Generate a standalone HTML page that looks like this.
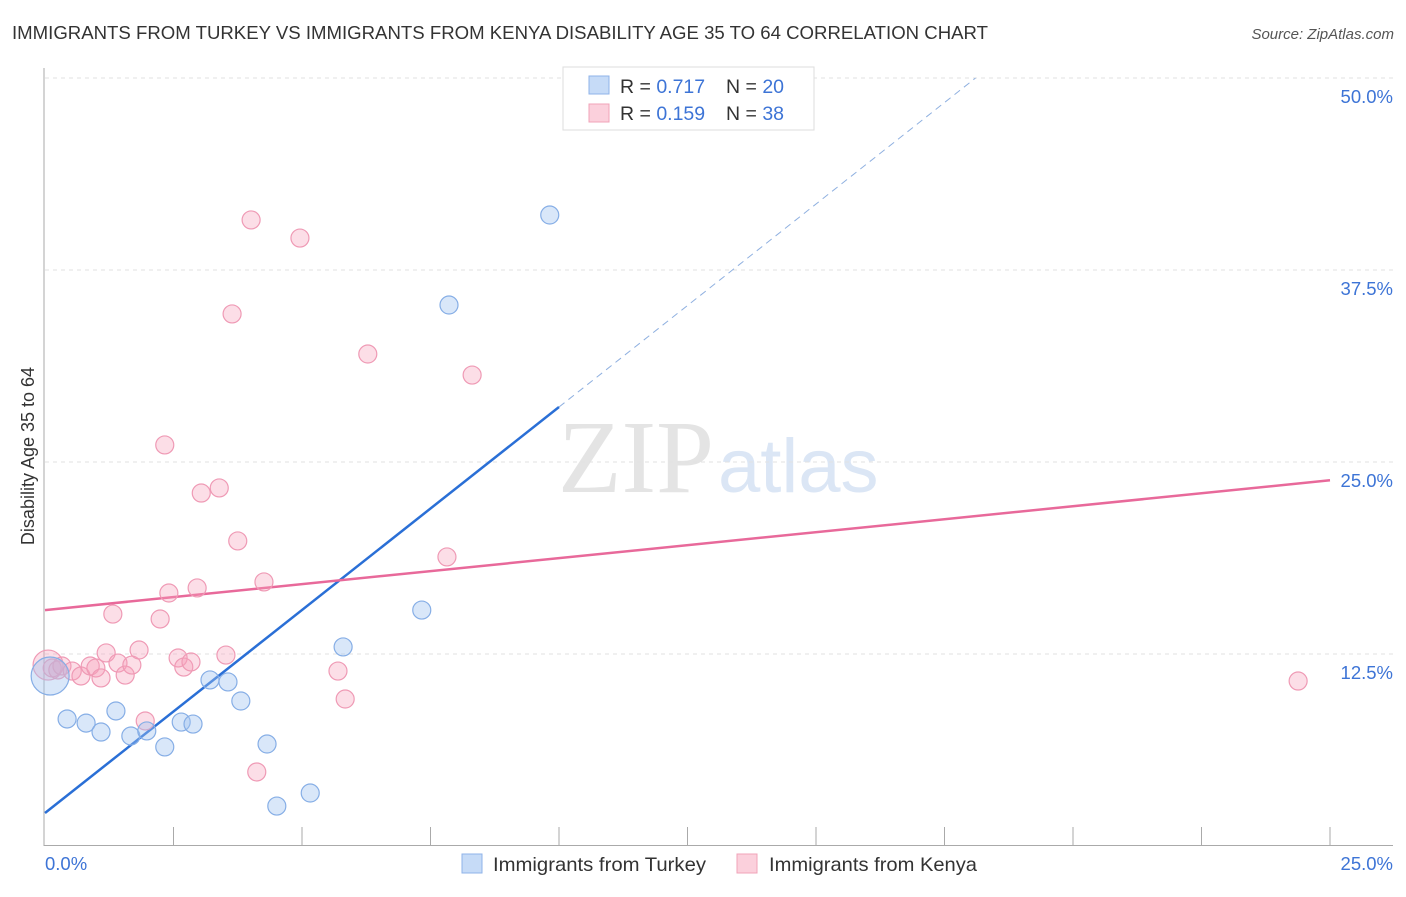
<!DOCTYPE html>
<html><head><meta charset="utf-8"><style>
body{margin:0;background:#fff;font-family:"Liberation Sans",sans-serif}
</style></head><body>
<svg width="1406" height="892" xmlns="http://www.w3.org/2000/svg" id="svg">
<text x="12" y="39" font-size="18" fill="#333" textLength="976" lengthAdjust="spacingAndGlyphs">IMMIGRANTS FROM TURKEY VS IMMIGRANTS FROM KENYA DISABILITY AGE 35 TO 64 CORRELATION CHART</text>
<text x="1394" y="39" font-size="15" fill="#555" font-style="italic" text-anchor="end">Source: ZipAtlas.com</text>
<text x="714" y="492" font-size="104" fill="#e4e4e4" text-anchor="end" font-family="Liberation Serif,serif">ZIP</text>
<text x="718" y="492" font-size="76" fill="#dbe6f5">atlas</text>
<g id="grid"></g>
<g id="axes"></g>
<g id="lines"></g>
<g id="pts"></g>
<text transform="translate(34,456) rotate(-90)" font-size="18" fill="#333" text-anchor="middle">Disability Age 35 to 64</text>
<g>
<rect x="563" y="67" width="251" height="63" fill="#fff" stroke="#ddd"/>
<rect x="589" y="76" width="20" height="18" fill="#c6dbf7" stroke="#8fb3e8"/>
<rect x="589" y="104" width="20" height="18" fill="#fbd0dc" stroke="#f0a3b8"/>
<text x="620" y="93" font-size="19.5" fill="#333">R = <tspan fill="#3d74d6">0.717</tspan></text>
<text x="726" y="93" font-size="19.5" fill="#333">N = <tspan fill="#3d74d6">20</tspan></text>
<text x="620" y="120" font-size="19.5" fill="#333">R = <tspan fill="#3d74d6">0.159</tspan></text>
<text x="726" y="120" font-size="19.5" fill="#333">N = <tspan fill="#3d74d6">38</tspan></text>
</g>
<g>
<rect x="462" y="854" width="20" height="19" fill="#c6dbf7" stroke="#8fb3e8"/>
<text x="493" y="871" font-size="19.5" fill="#333" textLength="213" lengthAdjust="spacingAndGlyphs">Immigrants from Turkey</text>
<rect x="737" y="854" width="20" height="19" fill="#fbd0dc" stroke="#f0a3b8"/>
<text x="769" y="871" font-size="19.5" fill="#333" textLength="208" lengthAdjust="spacingAndGlyphs">Immigrants from Kenya</text>
</g>
</svg>
<script>
const yTicks=[12.5,25,37.5,50];
const yTickLabels=["12.5%","25.0%","37.5%","50.0%"];
const xTickLabels=["0.0%","25.0%"];
const turkeyX=[0.1,0.43,0.8,1.09,1.38,1.67,1.98,2.33,2.65,2.88,3.21,3.56,3.81,4.32,4.51,5.16,5.80,7.33,7.86,9.82];
const turkeyY=[11.07,8.27,8.0,7.42,8.79,7.16,7.49,6.45,8.07,7.94,10.81,10.68,9.44,6.64,2.60,3.45,12.96,15.36,35.22,41.08];
const kenyaX=[0.06,0.14,0.25,0.33,0.53,0.70,0.88,0.99,1.09,1.19,1.32,1.42,1.56,1.69,1.83,1.95,2.24,2.33,2.41,2.59,2.70,2.84,2.96,3.04,3.39,3.52,3.64,3.75,4.01,4.12,4.26,4.96,5.70,5.84,6.28,7.82,8.31,24.38];
const kenyaY=[11.78,11.59,11.46,11.72,11.39,11.07,11.72,11.59,10.94,12.57,15.10,11.91,11.13,11.78,12.76,8.14,14.78,26.11,16.47,12.24,11.65,11.98,16.80,22.98,23.31,12.43,34.64,19.86,40.76,4.82,17.19,39.58,11.39,9.57,32.03,18.82,30.66,10.74];
const turkeyTrend=[2.15,2.643]; // intercept, slope
const kenyaTrend=[15.36,0.338];
const NS="http://www.w3.org/2000/svg";
const X=v=>45+v*51.4, Y=v=>846-v*15.36;
function mk(t,a,p){const e=document.createElementNS(NS,t);for(const k in a)e.setAttribute(k,a[k]);p.appendChild(e);return e;}
const g=document.getElementById('grid'),ax=document.getElementById('axes'),ln=document.getElementById('lines'),pts=document.getElementById('pts'),svg=document.getElementById('svg');
yTicks.forEach((t,i)=>{
 const l=mk('line',{x1:45,x2:1393,y1:Y(t),y2:Y(t),stroke:'#e2e2e2','stroke-dasharray':'4,4'},g);
 
 const tx=mk('text',{x:1393,y:Y(t)+25,'font-size':18.5,fill:'#3d74d6','text-anchor':'end'},svg);
 tx.textContent=yTickLabels[i];
 
});
mk('line',{x1:44,x2:44,y1:68,y2:846,stroke:'#aaa'},ax);
mk('line',{x1:44,x2:1393,y1:845.5,y2:845.5,stroke:'#aaa'},ax);
for(let i=1;i<=10;i++){const l=mk('line',{x1:X(i*2.5),x2:X(i*2.5),y1:827,y2:846,stroke:'#aaa'},ax);}
[[0,'start',45],[25,'end',1393]].forEach((d,i)=>{const t=mk('text',{x:d[2],y:870,'font-size':18.5,fill:'#3d74d6','text-anchor':d[1]},svg);t.textContent=xTickLabels[i];});
const tb=mk('line',{x1:X(0),y1:Y(turkeyTrend[0]),x2:X(10),y2:Y(turkeyTrend[0]+10*turkeyTrend[1]),stroke:'#2a6fd6','stroke-width':2.5},ln);

const xe=(50-turkeyTrend[0])/turkeyTrend[1];
const td=mk('line',{x1:X(10),y1:Y(turkeyTrend[0]+10*turkeyTrend[1]),x2:X(xe),y2:Y(50),stroke:'#8fb0e0','stroke-width':1,'stroke-dasharray':'7,5'},ln);

const kl=mk('line',{x1:X(0),y1:Y(kenyaTrend[0]),x2:X(25),y2:Y(kenyaTrend[0]+25*kenyaTrend[1]),stroke:'#e8699a','stroke-width':2.5},ln);

kenyaX.forEach((x,i)=>{const c=mk('circle',{cx:X(x),cy:Y(kenyaY[i]),r:i==0?15:9,fill:'rgba(246,160,185,0.35)',stroke:'#ef9ab5','stroke-width':1.2},pts);
});
turkeyX.forEach((x,i)=>{const c=mk('circle',{cx:X(x),cy:Y(turkeyY[i]),r:i==0?19:9,fill:'rgba(160,195,240,0.4)',stroke:'#86aee6','stroke-width':1.2},pts);
});
</script>
</body></html>
